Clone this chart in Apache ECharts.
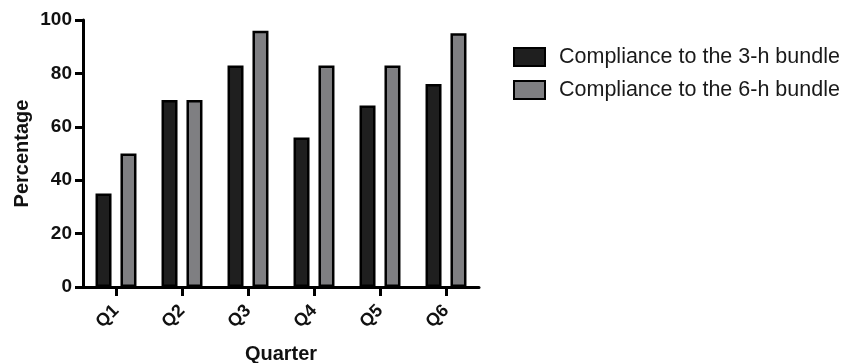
<!DOCTYPE html>
<html><head><meta charset="utf-8">
<script src="https://cdn.jsdelivr.net/npm/echarts@6/dist/echarts.min.js"></script>
<style>html,body{margin:0;padding:0;background:#fff}#c{width:846px;height:363px}</style>
</head><body><div id="c"></div>
<script>
const categories = ['Q1','Q2','Q3','Q4','Q5','Q6'];
const bundle3h = [35, 70, 83, 56, 68, 76];
const bundle6h = [50, 70, 96, 83, 83, 95];
const yTicks = [0, 20, 40, 60, 80, 100];
const seriesNames = ['Compliance to the 3-h bundle', 'Compliance to the 6-h bundle'];

const F = 'Liberation Sans, Arial, Helvetica, sans-serif';
const chart = echarts.init(document.getElementById('c'));
chart.setOption({
  animation: false,
  backgroundColor: '#fff',
  grid: {left: 83, right: 367, top: 20, bottom: 76, containLabel: false, outerBoundsMode: 'none'},
  legend: {
    left: 513, top: 46, padding: 0, orient: 'vertical', itemWidth: 31, itemHeight: 18, itemGap: 11,
    icon: 'rect',
    textStyle: {fontFamily: F, fontSize: 21.5, lineHeight: 20, color: '#1a1a1a', padding: [0,0,0,9]},
    data: seriesNames
  },
  xAxis: {
    type: 'category', data: categories,
    name: 'Quarter', nameLocation: 'middle', nameGap: 57,
    nameTextStyle: {fontFamily: F, fontSize: 20, fontWeight: 'bold', color: '#111'},
    axisLine: {lineStyle: {color: '#000', width: 3}},
    axisTick: {show: true, alignWithLabel: true, length: 9, lineStyle: {color: '#000', width: 3}},
    axisLabel: {rotate: 45, fontFamily: F, fontSize: 18, fontWeight: 'bold', color: '#111', margin: 21}
  },
  yAxis: {
    type: 'value', min: yTicks[0], max: yTicks[yTicks.length-1], interval: 20,
    name: 'Percentage', nameLocation: 'middle', nameGap: 51, nameRotate: 90,
    nameTextStyle: {fontFamily: F, fontSize: 20, fontWeight: 'bold', color: '#111'},
    axisLine: {show: true, lineStyle: {color: '#000', width: 3}},
    axisTick: {show: true, length: 8, lineStyle: {color: '#000', width: 3}},
    splitLine: {show: false},
    axisLabel: {fontFamily: F, fontSize: 19, fontWeight: 'bold', color: '#111', margin: 11}
  },
  series: [
    {name: seriesNames[0], type: 'bar', data: bundle3h, barWidth: 16, barGap: '56%',
     itemStyle: {color: '#1f1f1f', borderColor: '#000', borderWidth: 2.5}},
    {name: seriesNames[1], type: 'bar', data: bundle6h, barWidth: 16,
     itemStyle: {color: '#7f7f82', borderColor: '#000', borderWidth: 2.5}}
  ]
});
</script></body></html>
